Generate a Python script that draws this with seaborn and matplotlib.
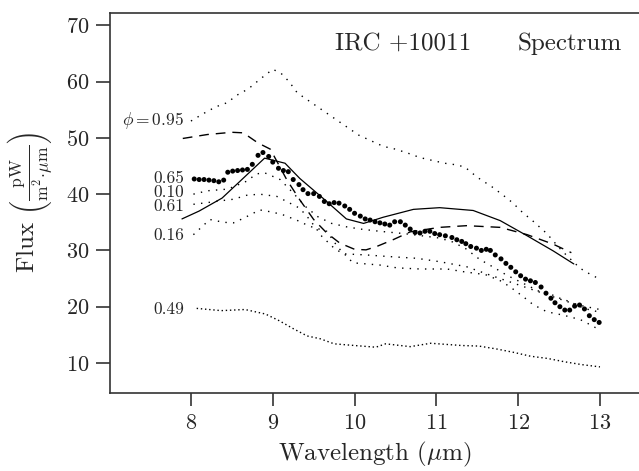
import matplotlib
matplotlib.use("Agg")
import matplotlib.pyplot as plt
import seaborn as sns

# phase 0.65 (bold dots)
wl_065 = [8.04, 8.10, 8.16, 8.22, 8.28, 8.34, 8.40, 8.45, 8.51, 8.57, 8.63, 8.69, 8.75,
          8.82, 8.88, 8.95, 9.00, 9.07, 9.13, 9.19, 9.25, 9.32, 9.37, 9.43,
          9.50, 9.57, 9.63, 9.69, 9.75, 9.81, 9.88, 9.94,
          10.00, 10.07, 10.13, 10.19, 10.25, 10.31, 10.37, 10.43, 10.49,
          10.56, 10.62, 10.68, 10.74, 10.80, 10.86, 10.92, 10.98,
          11.04, 11.11, 11.19, 11.25, 11.31, 11.36, 11.42, 11.49,
          11.55, 11.61, 11.66, 11.72, 11.79, 11.85, 11.91, 11.97,
          12.03, 12.09, 12.15, 12.21, 12.28, 12.34, 12.40, 12.45,
          12.51, 12.57, 12.63, 12.69, 12.75, 12.81, 12.87, 12.93, 12.99]
flux_065 = [42.7, 42.6, 42.6, 42.5, 42.4, 42.2, 42.5, 43.9, 44.1, 44.2, 44.3, 44.4, 45.3,
            46.9, 47.4, 46.7, 45.7, 44.6, 44.2, 44.0, 42.6, 41.7, 40.8, 40.1,
            40.1, 39.6, 38.7, 38.3, 38.5, 38.4, 37.9, 37.3,
            36.6, 36.1, 35.6, 35.4, 35.1, 34.9, 34.7, 34.5, 35.1,
            35.1, 34.5, 33.8, 33.2, 33.1, 33.4, 33.4, 33.0,
            32.8, 32.6, 32.3, 31.9, 31.6, 31.2, 30.7, 30.4,
            30.0, 30.2, 30.0, 29.2, 28.5, 27.7, 27.0, 26.2,
            25.5, 24.9, 24.6, 24.3, 23.5, 22.4, 21.5, 20.7,
            20.0, 19.4, 19.4, 20.1, 20.3, 19.6, 18.4, 17.7, 17.2]

# phase 0.95 (dotted, top)
wl_095 = [8.0, 8.15, 8.3, 8.45, 8.55, 8.7, 8.85, 9.0, 9.1, 9.2, 9.3, 9.45, 9.6, 9.75, 9.9,
          10.05, 10.2, 10.35, 10.5, 10.65, 10.8, 10.95, 11.1, 11.25, 11.35, 11.5, 11.68,
          11.8, 11.93, 12.05, 12.19, 12.35, 12.5, 12.6, 12.76, 12.9, 13.0]
flux_095 = [53.0, 54.3, 55.5, 56.3, 57.5, 58.7, 60.5, 62.2, 61.5, 60.0, 58.0, 56.5, 55.0, 53.5, 52.0,
            50.5, 49.5, 48.5, 48.0, 47.3, 46.5, 46.0, 45.5, 45.2, 44.8, 43.0, 41.3,
            40.0, 38.5, 36.8, 35.1, 33.0, 30.5, 29.0, 26.8, 25.6, 24.9]

# phase 0.10 (dotted)
wl_010 = [8.03, 8.2, 8.45, 8.68, 8.8, 8.9, 9.09, 9.25, 9.4, 9.55, 9.72, 9.9, 10.07, 10.31,
          10.6, 10.88, 11.04, 11.2, 11.36, 11.53, 11.7, 11.86, 12.0, 12.18, 12.3, 12.4,
          12.51, 12.63, 12.76, 12.88, 12.98]
flux_010 = [40.0, 40.6, 40.9, 42.3, 43.6, 43.8, 42.6, 40.2, 37.8, 36.0, 34.8, 34.2, 33.8, 33.4,
            33.0, 32.5, 32.2, 31.5, 30.3, 28.4, 27.0, 25.6, 24.6, 23.3, 22.4, 22.2,
            21.5, 20.9, 20.0, 19.4, 19.1]

# phase 0.61 (dotted)
wl_061 = [8.03, 8.2, 8.35, 8.52, 8.68, 8.84, 9.05, 9.17, 9.33, 9.45, 9.6, 9.75, 9.86, 10.14,
          10.43, 10.76, 11.04, 11.37, 11.6, 11.8, 12.0, 12.2, 12.4, 12.6, 12.8, 13.0]
flux_061 = [38.2, 38.5, 38.8, 39.1, 39.8, 40.0, 39.6, 38.7, 37.5, 35.5, 32.5, 30.4, 29.4, 29.2,
            28.9, 28.6, 28.0, 27.1, 25.9, 24.9, 23.9, 22.9, 21.9, 20.9, 20.1, 19.5]

# phase 0.16 (dotted)
wl_016 = [8.03, 8.23, 8.4, 8.52, 8.64, 8.84, 9.0, 9.13, 9.29, 9.45, 9.66, 9.8, 9.98, 10.31,
          10.52, 10.8, 11.13, 11.34, 11.6, 11.8, 11.95, 12.06, 12.18, 12.35, 12.55, 12.76,
          12.88, 12.98]
flux_016 = [32.8, 35.5, 35.0, 34.9, 35.7, 37.2, 36.8, 36.3, 35.4, 34.3, 33.4, 30.5, 27.8, 27.4,
            26.9, 26.7, 26.7, 26.2, 25.7, 24.5, 23.0, 21.8, 20.4, 19.1, 18.5, 17.7,
            16.8, 16.0]

# phase 0.49 (dotted, bottom)
wl_049 = [8.07, 8.37, 8.66, 8.91, 9.08, 9.25, 9.42, 9.58, 9.75, 10.0, 10.26, 10.38, 10.68,
          10.93, 11.31, 11.52, 11.73, 11.94, 12.15, 12.36, 12.57, 12.78, 13.0]
flux_049 = [19.7, 19.3, 19.5, 18.7, 17.5, 16.1, 14.8, 14.3, 13.4, 13.1, 12.8, 13.4, 12.9,
            13.5, 13.1, 13.0, 12.5, 11.9, 11.2, 10.8, 10.2, 9.7, 9.3]

# model curves
wl_solid = [7.89, 8.1, 8.38, 8.6, 8.9, 9.15, 9.33, 9.62, 9.9, 10.11, 10.35, 10.72, 11.04,
            11.45, 11.78, 12.11, 12.43, 12.68]
flux_solid = [35.6, 37.0, 39.3, 42.3, 46.4, 45.5, 42.8, 39.2, 35.6, 34.8, 35.9, 37.3, 37.6,
              37.1, 35.3, 32.6, 29.9, 27.6]
wl_dash = [7.9, 8.2, 8.5, 8.64, 8.82, 8.97, 9.17, 9.33, 9.5, 9.66, 9.82, 10.0, 10.14, 10.27,
           10.47, 10.68, 11.04, 11.37, 11.78, 12.11, 12.43, 12.65]
flux_dash = [49.9, 50.6, 51.0, 50.9, 49.1, 48.0, 42.6, 39.0, 35.5, 33.1, 31.3, 30.2, 30.1, 30.7,
             31.9, 33.3, 34.1, 34.4, 34.1, 32.8, 31.1, 29.6]

labels = ["$\\phi = 0.95$", "0.65", "0.10", "0.61", "0.16", "0.49"]
label_y = [53.1, 42.8, 40.3, 37.8, 32.6, 19.6]

sns.set_style("ticks")
plt.rcParams["font.family"] = "serif"
plt.rcParams["font.serif"] = ["cmr10", "DejaVu Serif"]
plt.rcParams["mathtext.fontset"] = "cm"
plt.rcParams["axes.formatter.use_mathtext"] = True

fig = plt.figure(figsize=(6.39, 4.71), dpi=100)
ax = fig.add_axes([0.1721, 0.1656, 0.8279, 0.8068])

dot = (0, (1, 4.5))
for xs, ys in [(wl_095, flux_095), (wl_010, flux_010), (wl_061, flux_061), (wl_016, flux_016)]:
    sns.lineplot(x=xs, y=ys, ax=ax, color="black", linewidth=1.0, linestyle=dot)
sns.lineplot(x=wl_049, y=flux_049, ax=ax, color="black", linewidth=1.0, linestyle=(0, (1, 2)))
sns.lineplot(x=wl_solid, y=flux_solid, ax=ax, color="black", linewidth=0.9)
sns.lineplot(x=wl_dash, y=flux_dash, ax=ax, color="black", linewidth=1.0, linestyle=(0, (7, 5)))
sns.scatterplot(x=wl_065, y=flux_065, ax=ax, color="black", s=13, edgecolor="none")

for lab, yy in zip(labels, label_y):
    ax.text(7.915, yy, lab, ha="right", va="center", fontsize=12.5)

ax.text(9.76, 66.8, "IRC +10011", ha="left", va="center", fontsize=18)
ax.text(13.27, 66.8, "Spectrum", ha="right", va="center", fontsize=18)

ax.set_xlim(7.01, 13.477)
ax.set_ylim(4.66, 72.2)
ax.set_xticks([8, 9, 10, 11, 12, 13])
ax.set_yticks([10, 20, 30, 40, 50, 60, 70])
ax.tick_params(axis="both", direction="out", width=1.2, labelsize=16, color="#333333")
ax.tick_params(axis="x", length=9, pad=6)
ax.tick_params(axis="y", length=10, pad=5)
for s in ["left", "bottom", "top"]:
    ax.spines[s].set_linewidth(1.2)
    ax.spines[s].set_color("#333333")
ax.spines["right"].set_visible(False)

ax.set_xlabel("Wavelength ($\\mu$m)", fontsize=18, labelpad=5)
ax.set_ylabel("Flux $\\left(\\frac{\\mathrm{pW}}{\\mathrm{m}^2\\!\\cdot\\!\\mu\\mathrm{m}}\\right)$",
              fontsize=18, labelpad=8)

fig.savefig("out.png", dpi=100)
